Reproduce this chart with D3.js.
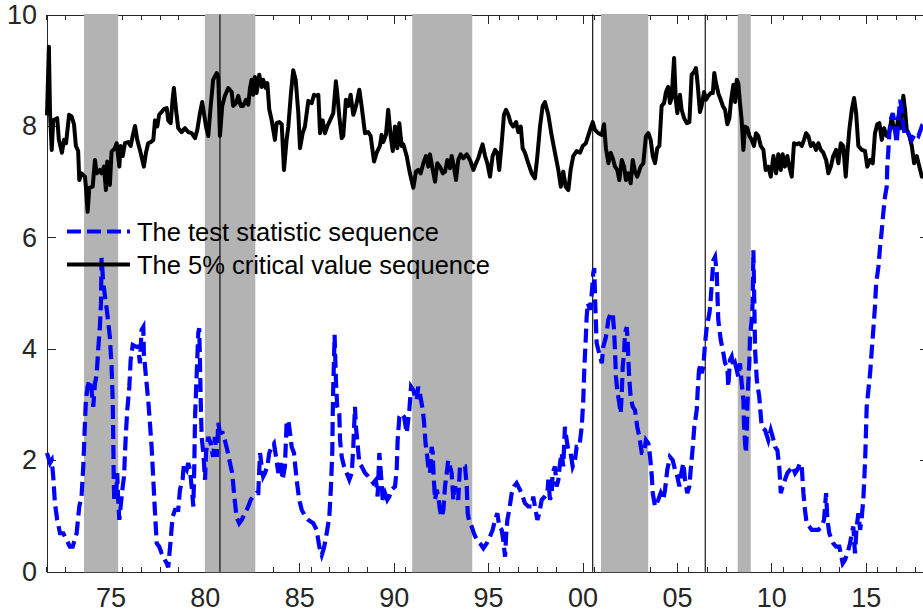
<!DOCTYPE html>
<html>
<head>
<meta charset="utf-8">
<script src="https://cdn.jsdelivr.net/npm/d3@7"></script>
<style>
  html, body { margin: 0; padding: 0; background: #fff; }
  #chart svg { display: block; font-family: "Liberation Sans", Arial, Helvetica, sans-serif; }
  .axis path, .axis line { stroke: #262626; stroke-width: 1; shape-rendering: crispEdges; }
  .axis text { fill: #262626; font-size: 27px; }
</style>
</head>
<body>
<div id="chart"></div>
<script>
// ── Data (decimal years) ──
const critYears = [1971.64,1971.74,1971.80,1971.89,1971.97,1972.18,1972.27,1972.43,1972.54,1972.65,1972.81,1972.94,1973.07,1973.17,1973.29,1973.35,1973.47,1973.65,1973.70,1973.79,1973.88,1974.06,1974.18,1974.27,1974.44,1974.53,1974.66,1974.76,1974.83,1974.97,1975.06,1975.24,1975.33,1975.47,1975.54,1975.65,1975.77,1975.94,1976.07,1976.18,1976.30,1976.42,1976.56,1976.77,1976.88,1977.00,1977.13,1977.27,1977.36,1977.48,1977.58,1977.73,1977.83,1977.98,1978.06,1978.19,1978.29,1978.36,1978.47,1978.59,1978.77,1978.95,1979.12,1979.30,1979.48,1979.60,1979.74,1979.86,1980.06,1980.18,1980.31,1980.44,1980.63,1980.71,1980.80,1980.92,1981.06,1981.24,1981.42,1981.50,1981.65,1981.77,1981.90,1982.03,1982.18,1982.30,1982.39,1982.48,1982.56,1982.65,1982.74,1982.88,1983.01,1983.09,1983.22,1983.31,1983.41,1983.54,1983.71,1983.80,1983.94,1984.07,1984.19,1984.33,1984.42,1984.56,1984.68,1984.81,1984.95,1985.04,1985.18,1985.30,1985.48,1985.66,1985.78,1985.92,1986.01,1986.10,1986.24,1986.36,1986.48,1986.63,1986.80,1986.94,1987.01,1987.12,1987.25,1987.33,1987.47,1987.60,1987.72,1987.86,1987.95,1988.04,1988.18,1988.30,1988.48,1988.65,1988.78,1988.96,1989.10,1989.27,1989.36,1989.45,1989.59,1989.71,1989.84,1989.95,1990.07,1990.19,1990.30,1990.42,1990.51,1990.69,1990.86,1991.04,1991.18,1991.30,1991.43,1991.57,1991.71,1991.83,1991.92,1992.07,1992.19,1992.31,1992.45,1992.60,1992.72,1992.84,1992.98,1993.07,1993.19,1993.30,1993.42,1993.55,1993.69,1993.87,1994.04,1994.22,1994.36,1994.48,1994.61,1994.71,1994.84,1994.96,1995.10,1995.24,1995.37,1995.49,1995.59,1995.72,1995.84,1995.95,1996.07,1996.20,1996.33,1996.48,1996.60,1996.73,1996.83,1996.95,1997.13,1997.31,1997.48,1997.61,1997.75,1997.89,1998.01,1998.19,1998.37,1998.54,1998.72,1998.85,1998.98,1999.11,1999.25,1999.37,1999.51,1999.69,1999.87,2000.01,2000.18,2000.40,2000.54,2000.66,2000.84,2001.02,2001.14,2001.24,2001.37,2001.49,2001.63,2001.72,2001.84,2001.95,2002.08,2002.20,2002.30,2002.43,2002.55,2002.66,2002.78,2002.90,2003.08,2003.22,2003.36,2003.49,2003.61,2003.72,2003.84,2003.96,2004.07,2004.19,2004.32,2004.42,2004.54,2004.63,2004.72,2004.85,2004.94,2005.02,2005.16,2005.25,2005.38,2005.52,2005.66,2005.78,2005.91,2006.01,2006.10,2006.22,2006.31,2006.44,2006.54,2006.66,2006.79,2006.90,2006.98,2007.07,2007.19,2007.32,2007.43,2007.55,2007.67,2007.78,2007.87,2007.99,2008.08,2008.17,2008.25,2008.34,2008.43,2008.52,2008.61,2008.73,2008.84,2008.96,2009.08,2009.19,2009.31,2009.44,2009.58,2009.70,2009.84,2009.97,2010.11,2010.25,2010.37,2010.50,2010.60,2010.72,2010.85,2010.95,2011.08,2011.20,2011.34,2011.48,2011.61,2011.73,2011.84,2011.96,2012.09,2012.22,2012.37,2012.49,2012.62,2012.75,2012.90,2013.02,2013.15,2013.28,2013.43,2013.55,2013.68,2013.81,2013.94,2014.03,2014.13,2014.26,2014.38,2014.49,2014.61,2014.79,2014.96,2015.08,2015.23,2015.37,2015.49,2015.61,2015.72,2015.85,2015.97,2016.11,2016.25,2016.38,2016.46,2016.60,2016.73,2016.85,2016.99,2017.08,2017.17,2017.31,2017.44,2017.56,2017.70,2017.84,2017.97,2018.30];
const critValues = [8.19,9.42,8.23,7.57,8.10,8.14,7.75,7.52,7.75,7.69,8.20,8.17,8.03,7.64,7.55,7.03,7.15,7.09,6.91,6.46,6.89,6.91,7.39,7.15,7.21,7.15,7.27,6.85,7.36,6.94,7.54,7.60,7.69,7.27,7.64,7.46,7.69,7.71,7.64,7.82,8.00,7.75,7.57,7.27,7.52,7.69,7.71,7.75,8.10,7.99,8.20,8.26,8.30,8.32,8.10,8.05,8.47,8.68,8.30,7.96,7.89,7.96,7.89,7.87,7.78,7.93,8.23,8.43,7.99,7.82,8.36,8.83,8.95,8.88,7.82,8.36,8.54,8.68,8.61,8.36,8.41,8.54,8.36,8.36,8.47,8.38,8.68,8.83,8.56,8.88,8.59,8.92,8.70,8.83,8.68,8.77,8.30,8.10,7.75,8.05,8.07,8.03,7.21,7.75,7.99,8.59,9.00,8.83,8.23,7.60,7.87,7.99,8.45,8.41,8.56,8.54,8.56,7.87,8.10,7.87,7.99,8.10,8.23,8.80,8.59,8.17,7.78,7.82,8.47,8.36,8.56,8.20,8.29,8.41,8.65,8.36,7.87,7.89,7.82,7.36,7.52,7.64,7.84,7.71,7.84,8.29,7.82,7.55,7.99,7.60,8.05,7.64,7.67,7.46,7.15,6.89,7.18,7.21,7.15,7.33,7.46,7.27,7.49,7.21,7.00,7.33,7.27,7.15,7.18,7.39,7.24,7.46,7.27,7.03,7.39,7.49,7.42,7.49,7.39,7.21,7.33,7.42,7.57,7.67,7.46,7.33,7.09,7.46,7.57,7.52,7.21,7.69,8.20,8.29,8.20,8.05,7.99,8.07,7.89,7.99,7.60,7.52,7.33,7.15,7.06,7.46,7.99,8.36,8.43,8.20,7.82,7.52,7.21,6.91,7.18,6.91,6.85,7.21,7.46,7.55,7.52,7.64,7.69,7.93,8.07,7.93,7.87,7.84,8.03,7.60,7.33,7.52,7.39,7.27,7.21,7.03,7.39,7.27,7.03,7.15,6.97,7.39,7.18,7.09,7.27,7.33,7.82,7.87,7.75,7.46,7.33,7.60,7.64,8.36,8.41,8.61,8.70,8.41,8.50,9.22,8.47,8.23,8.56,8.29,8.14,8.05,8.07,8.92,8.97,9.04,8.74,8.25,8.36,8.61,8.47,8.54,8.59,8.59,8.95,8.77,8.59,8.47,8.36,8.29,8.03,8.14,8.47,8.74,8.43,8.83,8.77,8.41,8.10,7.57,7.99,7.96,7.82,7.75,7.64,7.87,7.82,7.64,7.57,7.21,7.27,7.09,7.46,7.15,7.49,7.21,7.49,7.27,7.46,7.27,7.09,7.69,7.67,7.69,7.64,7.75,7.87,7.82,7.64,7.69,7.57,7.69,7.57,7.52,7.39,7.15,7.27,7.46,7.57,7.33,7.69,7.64,7.09,7.52,7.93,8.29,8.50,8.23,7.64,7.57,7.55,7.27,7.39,7.33,7.87,8.03,8.05,7.75,7.96,7.82,7.89,8.17,7.99,7.87,8.17,7.96,8.54,8.29,7.93,7.82,7.64,7.33,7.46,7.27,7.09,7.20];

const statYears = [1971.64,1971.80,1971.89,1971.97,1972.06,1972.18,1972.33,1972.50,1972.68,1972.85,1973.00,1973.21,1973.35,1973.47,1973.56,1973.65,1973.70,1973.79,1973.88,1974.00,1974.09,1974.18,1974.27,1974.35,1974.44,1974.50,1974.53,1974.62,1974.83,1974.97,1975.06,1975.12,1975.15,1975.17,1975.20,1975.29,1975.36,1975.41,1975.47,1975.54,1975.65,1975.72,1975.77,1975.82,1975.89,1976.00,1976.07,1976.18,1976.35,1976.47,1976.56,1976.65,1976.74,1976.77,1976.88,1977.00,1977.09,1977.18,1977.27,1977.36,1977.45,1977.58,1977.71,1977.80,1977.98,1978.06,1978.19,1978.29,1978.42,1978.59,1978.68,1978.82,1978.89,1979.04,1979.12,1979.21,1979.30,1979.39,1979.44,1979.48,1979.57,1979.65,1979.70,1979.74,1979.78,1979.83,1979.92,1980.01,1980.06,1980.18,1980.31,1980.44,1980.53,1980.63,1980.71,1980.80,1980.94,1981.06,1981.19,1981.33,1981.45,1981.56,1981.68,1981.82,1981.95,1982.12,1982.30,1982.43,1982.56,1982.74,1982.83,1982.92,1983.01,1983.09,1983.18,1983.31,1983.41,1983.54,1983.66,1983.77,1983.89,1984.01,1984.12,1984.24,1984.33,1984.42,1984.51,1984.60,1984.72,1984.86,1985.00,1985.13,1985.30,1985.48,1985.74,1985.92,1986.06,1986.19,1986.31,1986.45,1986.59,1986.68,1986.75,1986.77,1986.80,1986.84,1986.87,1986.94,1987.01,1987.12,1987.16,1987.25,1987.37,1987.51,1987.65,1987.78,1987.86,1987.95,1988.00,1988.07,1988.18,1988.30,1988.48,1988.65,1988.78,1988.92,1989.06,1989.15,1989.24,1989.31,1989.42,1989.54,1989.66,1989.77,1989.89,1990.07,1990.16,1990.21,1990.30,1990.42,1990.55,1990.69,1990.83,1990.92,1991.04,1991.13,1991.22,1991.30,1991.39,1991.54,1991.60,1991.69,1991.78,1991.83,1991.92,1992.01,1992.07,1992.10,1992.13,1992.19,1992.28,1992.36,1992.45,1992.54,1992.63,1992.72,1992.81,1992.89,1992.98,1993.07,1993.16,1993.25,1993.34,1993.42,1993.51,1993.63,1993.78,1993.87,1993.92,1994.00,1994.13,1994.25,1994.40,1994.57,1994.75,1994.93,1995.10,1995.24,1995.37,1995.49,1995.59,1995.72,1995.80,1995.90,1995.95,1996.02,1996.12,1996.25,1996.37,1996.51,1996.69,1996.83,1996.95,1997.13,1997.31,1997.39,1997.48,1997.61,1997.71,1997.84,1998.01,1998.14,1998.19,1998.28,1998.37,1998.42,1998.54,1998.63,1998.72,1998.81,1998.90,1998.98,1999.07,1999.16,1999.25,1999.37,1999.48,1999.60,1999.69,1999.83,1999.96,2000.04,2000.10,2000.17,2000.22,2000.28,2000.40,2000.49,2000.57,2000.62,2000.68,2000.75,2000.93,2001.02,2001.10,2001.24,2001.37,2001.49,2001.60,2001.67,2001.72,2001.77,2001.84,2001.95,2002.02,2002.08,2002.13,2002.20,2002.25,2002.34,2002.39,2002.43,2002.48,2002.55,2002.66,2002.78,2002.90,2003.01,2003.14,2003.26,2003.36,2003.49,2003.58,2003.67,2003.72,2003.84,2004.01,2004.14,2004.28,2004.37,2004.49,2004.63,2004.78,2004.90,2005.02,2005.13,2005.20,2005.34,2005.43,2005.55,2005.66,2005.73,2005.84,2005.92,2006.05,2006.10,2006.17,2006.26,2006.31,2006.40,2006.49,2006.58,2006.72,2006.76,2006.93,2007.02,2007.11,2007.15,2007.19,2007.32,2007.43,2007.55,2007.67,2007.72,2007.81,2007.90,2007.99,2008.08,2008.17,2008.25,2008.34,2008.43,2008.52,2008.55,2008.61,2008.66,2008.70,2008.73,2008.78,2008.84,2008.87,2008.96,2009.01,2009.05,2009.14,2009.23,2009.36,2009.49,2009.67,2009.84,2009.97,2010.07,2010.20,2010.32,2010.42,2010.50,2010.60,2010.72,2010.85,2010.99,2011.13,2011.26,2011.38,2011.52,2011.61,2011.70,2011.78,2011.87,2012.01,2012.14,2012.31,2012.49,2012.67,2012.79,2012.90,2012.97,2013.07,2013.20,2013.28,2013.43,2013.60,2013.78,2013.90,2014.03,2014.17,2014.26,2014.34,2014.43,2014.52,2014.61,2014.70,2014.79,2014.87,2014.93,2014.98,2015.02,2015.05,2015.14,2015.23,2015.32,2015.40,2015.49,2015.55,2015.67,2015.76,2015.85,2015.93,2016.02,2016.11,2016.14,2016.20,2016.25,2016.32,2016.43,2016.50,2016.57,2016.64,2016.73,2016.82,2016.91,2016.99,2017.08,2017.26,2017.44,2017.61,2017.79,2017.97,2018.30];
const statValues = [2.13,1.95,2.00,1.71,1.23,0.93,0.69,0.69,0.57,0.45,0.45,0.69,1.17,1.35,1.89,2.67,3.08,3.32,3.44,3.26,2.96,3.38,3.53,3.98,4.39,4.82,5.63,5.18,4.64,4.21,3.68,3.08,2.36,1.77,1.29,1.29,1.77,1.29,0.93,1.17,1.53,1.71,2.13,2.49,2.90,3.32,3.80,4.07,4.04,4.04,3.74,4.34,4.39,3.92,3.50,3.08,2.67,2.24,1.65,1.06,0.51,0.45,0.33,0.26,0.15,0.08,0.57,0.98,1.11,1.11,1.47,1.65,1.92,1.83,1.95,1.83,1.53,1.17,1.89,2.78,3.56,4.28,4.37,3.80,3.08,2.42,2.13,1.65,2.13,2.42,2.30,2.06,2.42,2.06,2.67,2.49,2.49,2.36,2.18,1.95,1.77,1.35,0.98,0.87,0.93,1.05,1.17,1.29,1.35,1.41,1.41,2.13,1.89,1.71,1.77,1.89,2.13,2.24,2.30,2.06,1.77,1.95,1.65,1.89,2.67,2.72,2.49,2.24,2.13,1.65,1.29,1.11,1.00,0.93,0.87,0.75,0.45,0.30,0.43,0.69,0.98,1.53,2.18,2.78,3.32,3.80,4.25,3.44,2.96,2.84,2.36,2.06,1.89,1.77,1.65,1.77,2.24,2.96,2.60,2.36,1.95,1.89,1.77,1.71,1.65,1.59,1.65,1.35,2.13,1.83,1.29,1.41,1.29,1.35,1.47,1.53,1.83,2.36,2.78,2.84,2.78,2.49,2.90,3.32,3.26,3.14,3.08,3.32,3.20,2.90,2.72,2.30,2.06,1.89,1.77,2.24,2.13,1.83,1.65,1.29,1.47,1.35,1.11,0.98,1.11,1.53,1.77,2.00,1.89,1.77,1.29,1.53,1.41,1.29,1.89,1.89,1.89,1.53,1.05,0.90,0.81,0.69,0.57,0.51,0.42,0.51,0.63,0.75,0.93,1.05,0.81,0.75,0.57,0.27,0.63,0.93,1.11,1.41,1.53,1.59,1.47,1.35,1.23,1.17,1.17,1.35,1.17,0.93,1.05,1.29,1.35,1.41,1.65,1.29,1.41,1.77,1.89,1.53,1.65,1.95,2.13,1.89,2.60,2.36,2.18,2.13,1.89,2.00,2.24,2.24,2.60,3.08,3.68,4.16,4.57,4.82,4.70,5.00,5.36,5.45,4.75,4.10,3.86,3.74,4.04,4.21,4.52,4.64,4.64,4.34,3.98,3.50,3.26,3.02,2.84,3.20,3.68,3.92,4.28,4.39,4.16,3.80,3.44,3.14,2.96,2.90,2.60,2.42,2.13,2.13,2.36,2.30,2.06,1.71,1.41,1.17,1.29,1.41,1.29,1.47,1.83,2.06,2.00,1.83,1.71,1.53,1.71,1.95,1.65,1.41,1.53,1.83,2.24,2.60,2.90,3.26,3.62,3.74,3.56,3.68,4.10,4.39,4.64,4.75,5.59,5.65,5.36,4.93,4.52,4.16,3.98,3.74,3.68,3.32,3.80,3.86,3.68,3.74,3.62,3.50,3.74,3.38,3.08,2.67,2.30,2.13,2.54,2.96,3.38,3.80,4.21,4.52,4.82,5.77,3.98,3.44,3.14,2.60,2.54,2.36,2.54,2.42,2.24,2.18,1.89,1.41,1.53,1.65,1.77,1.83,1.89,1.77,1.83,1.95,1.89,1.41,1.11,0.87,0.81,0.75,0.75,0.75,0.81,0.93,1.41,0.93,0.69,0.57,0.51,0.45,0.45,0.15,0.21,0.33,0.51,0.69,0.81,0.33,0.81,1.05,0.75,0.98,1.29,1.71,2.13,2.60,2.96,3.26,3.56,3.98,4.34,4.76,5.17,5.47,5.83,6.13,6.44,6.73,6.91,7.27,7.57,7.87,8.11,8.23,8.11,7.87,7.69,8.11,8.47,8.29,7.99,7.82,7.87,7.75,7.87,7.82,7.99,7.90];

const recessionStarts = [1973.60, 1980.00, 1990.98, 2000.98, 2008.22];
const recessionEnds   = [1975.41, 1982.67, 1994.16, 2003.48, 2008.91];
const markerYears     = [1980.80, 2000.54, 2006.50];

const xMajorTicks  = [1975, 1980, 1985, 1990, 1995, 2000, 2005, 2010, 2015];
const xTickLabels  = ['75', '80', '85', '90', '95', '00', '05', '10', '15'];
const xMinorTicks  = [1971.6, 1972.6, 1973.6, 1975.6, 1976.6, 1977.6, 1978.6, 1980.6, 1981.6, 1982.6, 1983.6, 1985.6, 1986.6, 1987.6, 1988.6, 1990.6, 1991.6, 1992.6, 1993.6, 1995.6, 1996.6, 1997.6, 1998.6, 2000.6, 2001.6, 2002.6, 2003.6, 2005.6, 2006.6, 2007.6, 2008.6, 2010.6, 2011.6, 2012.6, 2013.6, 2015.6, 2016.6, 2017.6];
const yTicks       = [0, 2, 4, 6, 8, 10];

const legendLabels = ['The test statistic sequence', 'The 5% critical value sequence'];

(() => {
  'use strict';

  // ── Layout ──
  const W = 923, H = 616;
  const plot = { left: 47, top: 14.5, width: 882, height: 557.2 };

  const svg = d3.select('#chart').append('svg')
    .attr('width', W).attr('height', H);

  const g = svg.append('g')
    .attr('transform', `translate(${plot.left},${plot.top})`);

  // ── Scales ──
  const x = d3.scaleLinear().domain([1971.64, 2018.35]).range([0, plot.width]);
  const y = d3.scaleLinear().domain([0, 10]).range([plot.height, 0]);

  // ── Axes (box) ──
  const labelOf = d => xTickLabels[xMajorTicks.indexOf(d)];

  g.append('g').attr('class', 'axis')
    .attr('transform', `translate(0,${plot.height})`)
    .call(d3.axisBottom(x).tickValues(xMajorTicks).tickFormat(labelOf)
      .tickSize(-9).tickSizeOuter(0).tickPadding(16.5));

  g.append('g').attr('class', 'axis minor')
    .attr('transform', `translate(0,${plot.height})`)
    .call(d3.axisBottom(x).tickValues(xMinorTicks).tickFormat('').tickSize(-5).tickSizeOuter(0))
    .call(a => a.select('.domain').remove());

  g.append('g').attr('class', 'axis')
    .call(d3.axisTop(x).tickValues(xMajorTicks).tickFormat('').tickSize(-9).tickSizeOuter(0));

  g.append('g').attr('class', 'axis minor')
    .call(d3.axisTop(x).tickValues(xMinorTicks).tickFormat('').tickSize(-5).tickSizeOuter(0))
    .call(a => a.select('.domain').remove());

  g.append('g').attr('class', 'axis')
    .call(d3.axisLeft(y).tickValues(yTicks).tickSize(-9).tickSizeOuter(0).tickPadding(10));

  g.append('g').attr('class', 'axis')
    .attr('transform', `translate(${plot.width},0)`)
    .call(d3.axisRight(y).tickValues(yTicks).tickFormat('').tickSize(-9).tickSizeOuter(0));

  // ── Recession bands (cover the box lines) ──
  g.append('g').selectAll('rect')
    .data(recessionStarts.map((s, i) => [s, recessionEnds[i]]))
    .join('rect')
    .attr('x', d => x(d[0]))
    .attr('width', d => x(d[1]) - x(d[0]))
    .attr('y', -0.5)
    .attr('height', plot.height + 1)
    .attr('fill', '#b3b3b3');

  // ── Vertical marker lines ──
  g.append('g').selectAll('line')
    .data(markerYears)
    .join('line')
    .attr('x1', d => x(d)).attr('x2', d => x(d))
    .attr('y1', 0).attr('y2', plot.height)
    .attr('stroke', '#000').attr('stroke-width', 1.1);

  // ── Series ──
  const line = d3.line().x(d => x(d[0])).y(d => y(d[1]));

  g.append('path')
    .datum(critYears.map((t, i) => [t, critValues[i]]))
    .attr('fill', 'none')
    .attr('stroke', '#000')
    .attr('stroke-width', 4)
    .attr('stroke-linejoin', 'round')
    .attr('d', line);

  g.append('path')
    .datum(statYears.map((t, i) => [t, statValues[i]]))
    .attr('fill', 'none')
    .attr('stroke', '#0000ff')
    .attr('stroke-width', 4.2)
    .attr('stroke-dasharray', '14 6')
    .attr('d', line);

  // ── Legend ──
  const legend = svg.append('g');
  const legendStyles = [
    { stroke: '#0000ff', dash: '14 6', width: 4.2 },
    { stroke: '#000', dash: null, width: 4 }
  ];
  const rowY = [231.5, 264.5];

  legendLabels.forEach((label, i) => {
    legend.append('line')
      .attr('x1', 67).attr('x2', 130)
      .attr('y1', rowY[i]).attr('y2', rowY[i])
      .attr('stroke', legendStyles[i].stroke)
      .attr('stroke-width', legendStyles[i].width)
      .attr('stroke-dasharray', legendStyles[i].dash);
    legend.append('text')
      .attr('x', 137).attr('y', rowY[i] + 9)
      .attr('font-size', '25.5px')
      .attr('fill', '#000')
      .text(label);
  });
})();
</script>
</body>
</html>
